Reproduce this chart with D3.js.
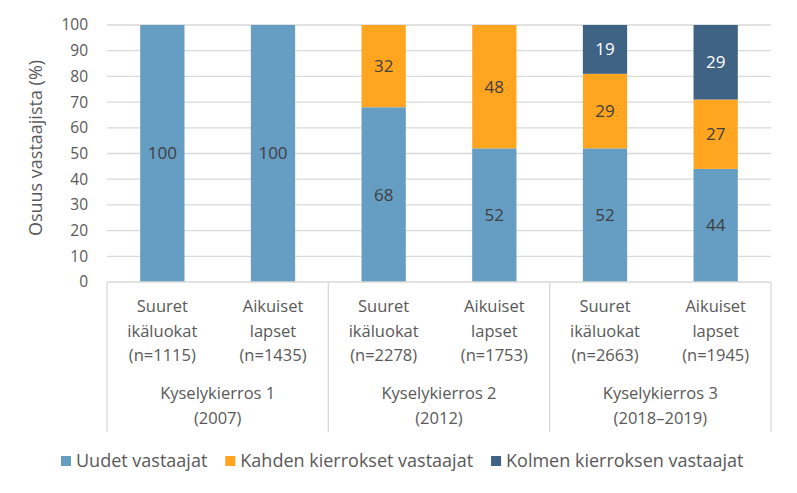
<!DOCTYPE html>
<html>
<head>
<meta charset="utf-8">
<script src="https://cdn.jsdelivr.net/npm/d3@7"></script>
<style>
  body { margin: 0; background: #fff; }
  text { font-family: "Open Sans", sans-serif; fill: #595959; }
</style>
</head>
<body>
<svg id="chart" width="797" height="493"></svg>
<script>
// data
var catLines = [["Suuret", "ikäluokat"], ["Aikuiset", "lapset"], ["Suuret", "ikäluokat"], ["Aikuiset", "lapset"], ["Suuret", "ikäluokat"], ["Aikuiset", "lapset"]];
var sampleSizes = ["(n=1115)", "(n=1435)", "(n=2278)", "(n=1753)", "(n=2663)", "(n=1945)"];
var rounds = [["Kyselykierros 1", "(2007)"], ["Kyselykierros 2", "(2012)"], ["Kyselykierros 3", "(2018\u20132019)"]];
var seriesNames = ["Uudet vastaajat", "Kahden kierrokset vastaajat", "Kolmen kierroksen vastaajat"];
var uudet = [100, 100, 68, 52, 52, 44];
var kahden = [0, 0, 32, 48, 29, 27];
var kolmen = [0, 0, 0, 0, 19, 29];
var yTicks = [0, 10, 20, 30, 40, 50, 60, 70, 80, 90, 100];

var colors = ["#659DC3", "#FFA51F", "#3F6384"];
var labelColors = ["#404040", "#404040", "#ffffff"];

var svg = d3.select("#chart");
var plotL = 107, plotR = 771, plotT = 25, plotB = 282;

var x = d3.scaleBand().domain(d3.range(6)).range([plotL, plotR]).paddingInner(0.6).paddingOuter(0.3);
var y = d3.scaleLinear().domain([0, 100]).range([plotB, plotT]);

// gridlines
svg.append("g").selectAll("line").data(yTicks.slice(1)).join("line")
  .attr("x1", plotL).attr("x2", plotR)
  .attr("y1", function(d) { return y(d); }).attr("y2", function(d) { return y(d); })
  .attr("stroke", "#d9d9d9").attr("stroke-width", 1.3);

// y tick labels
svg.append("g").selectAll("text").data(yTicks).join("text")
  .attr("x", 88).attr("y", function(d) { return y(d); })
  .attr("dy", "0.35em").attr("text-anchor", "end")
  .style("font-size", "15.5px").text(function(d) { return d; });

svg.append("text")
  .attr("transform", "translate(36," + 148 + ") rotate(-90)")
  .attr("text-anchor", "middle").attr("dy", "0.35em")
  .style("font-size", "18px").text("Osuus vastaajista (%)");

// stacked bars
var rows = d3.range(6).map(function(i) { return { i: i, s0: uudet[i], s1: kahden[i], s2: kolmen[i] }; });
var stacked = d3.stack().keys(["s0", "s1", "s2"])(rows);

stacked.forEach(function(layer, k) {
  var g = svg.append("g");
  var segs = layer.filter(function(d) { return d[1] > d[0]; });
  g.selectAll("rect").data(segs).join("rect")
    .attr("x", function(d) { return x(d.data.i); })
    .attr("width", x.bandwidth())
    .attr("y", function(d) { return y(d[1]); })
    .attr("height", function(d) { return y(d[0]) - y(d[1]); })
    .attr("fill", colors[k]);
  g.selectAll("text").data(segs).join("text")
    .attr("x", function(d) { return x(d.data.i) + x.bandwidth() / 2; })
    .attr("y", function(d) { return y((d[0] + d[1]) / 2); })
    .attr("dy", "0.35em").attr("text-anchor", "middle")
    .style("font-size", "17px").style("fill", labelColors[k])
    .text(function(d) { return d[1] - d[0]; });
});

// category axis
var axisColor = "#d9d9d9";
svg.append("line").attr("x1", plotL).attr("x2", plotR).attr("y1", plotB).attr("y2", plotB)
  .attr("stroke", axisColor).attr("stroke-width", 1.3);
var step = (plotR - plotL) / 3;
[0, 1, 2, 3].forEach(function(j) {
  svg.append("line").attr("x1", plotL + j * step).attr("x2", plotL + j * step)
    .attr("y1", plotB).attr("y2", 432).attr("stroke", axisColor).attr("stroke-width", 1.3);
});

svg.append("g").selectAll("text").data(d3.range(6)).join("text")
  .attr("text-anchor", "middle").style("font-size", "16.5px")
  .each(function(i) {
    var t = d3.select(this);
    var cx = x(i) + x.bandwidth() / 2;
    catLines[i].concat([sampleSizes[i]]).forEach(function(l, k) {
      t.append("tspan").attr("x", cx).attr("y", 312 + k * 24.5).text(l);
    });
  });

svg.append("g").selectAll("text").data(rounds).join("text")
  .attr("text-anchor", "middle").style("font-size", "16.5px")
  .each(function(r, j) {
    var t = d3.select(this);
    var cx = plotL + (j + 0.5) * step;
    r.forEach(function(l, k) {
      t.append("tspan").attr("x", cx).attr("y", 399 + k * 24.5).text(l);
    });
  });

// legend
var legend = svg.append("g");
var lx = 61;
seriesNames.forEach(function(name, k) {
  var item = legend.append("g").attr("transform", "translate(" + lx + ",0)");
  item.append("rect").attr("x", 0).attr("y", 456).attr("width", 10).attr("height", 10).attr("fill", colors[k]);
  var t = item.append("text").attr("x", 15).attr("y", 461).attr("dy", "0.35em")
    .style("font-size", "18px").text(name);
  lx += 15 + t.node().getComputedTextLength() + 18;
});
</script>
</body>
</html>
